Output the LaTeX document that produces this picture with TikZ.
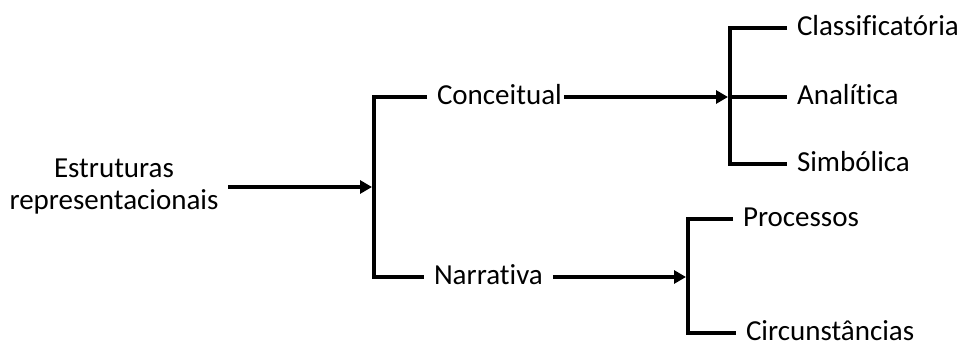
\documentclass[tikz,border=0pt]{standalone}
\usepackage{fontspec}
\setmainfont{Carlito}[Ligatures=NoCommon]
\usetikzlibrary{arrows.meta}
\begin{document}
\begin{tikzpicture}[x=1pt,y=-1pt,
  lbl/.style={font=\fontsize{29}{33}\selectfont, inner sep=0pt, outer xsep=10pt, outer ysep=0pt, text height=15pt, text depth=0pt, anchor=west},
  link/.style={line width=4.5pt},
  arr/.style={link, -{Triangle[length=12pt,width=13pt]}, shorten >=2pt}]
\useasboundingbox (0,0) rectangle (961,345);
\node[font=\fontsize{29}{32}\selectfont, inner sep=0pt, outer xsep=10pt, align=center] (est) at (114,187) {Estruturas\\representacionais};
\node[lbl] (con) at (427,97) {Conceitual};
\node[lbl] (nar) at (424,277) {Narrativa};
\node[lbl] (cla) at (787,28) {Classificatória};
\node[lbl] (ana) at (787,97) {Analítica};
\node[lbl] (sim) at (787,164) {Simbólica};
\node[lbl] (pro) at (733,219) {Processos};
\node[lbl] (cir) at (736,333) {Circunstâncias};
\coordinate (j1) at (374,187);
\coordinate (j2) at (730,97);
\coordinate (j3) at (688,277);
\draw[link] (con.west) -| (j1) |- (nar.west);
\draw[arr] (est.east) -- (j1);
\draw[link] (cla.west) -| (j2) |- (sim.west);
\draw[link] (j2) -- (ana.west);
\draw[arr] ([xshift=-8pt]con.east) -- (j2);
\draw[link] (pro.west) -| (j3) |- (cir.west);
\draw[arr] (nar.east) -- (j3);
\end{tikzpicture}
\end{document}
